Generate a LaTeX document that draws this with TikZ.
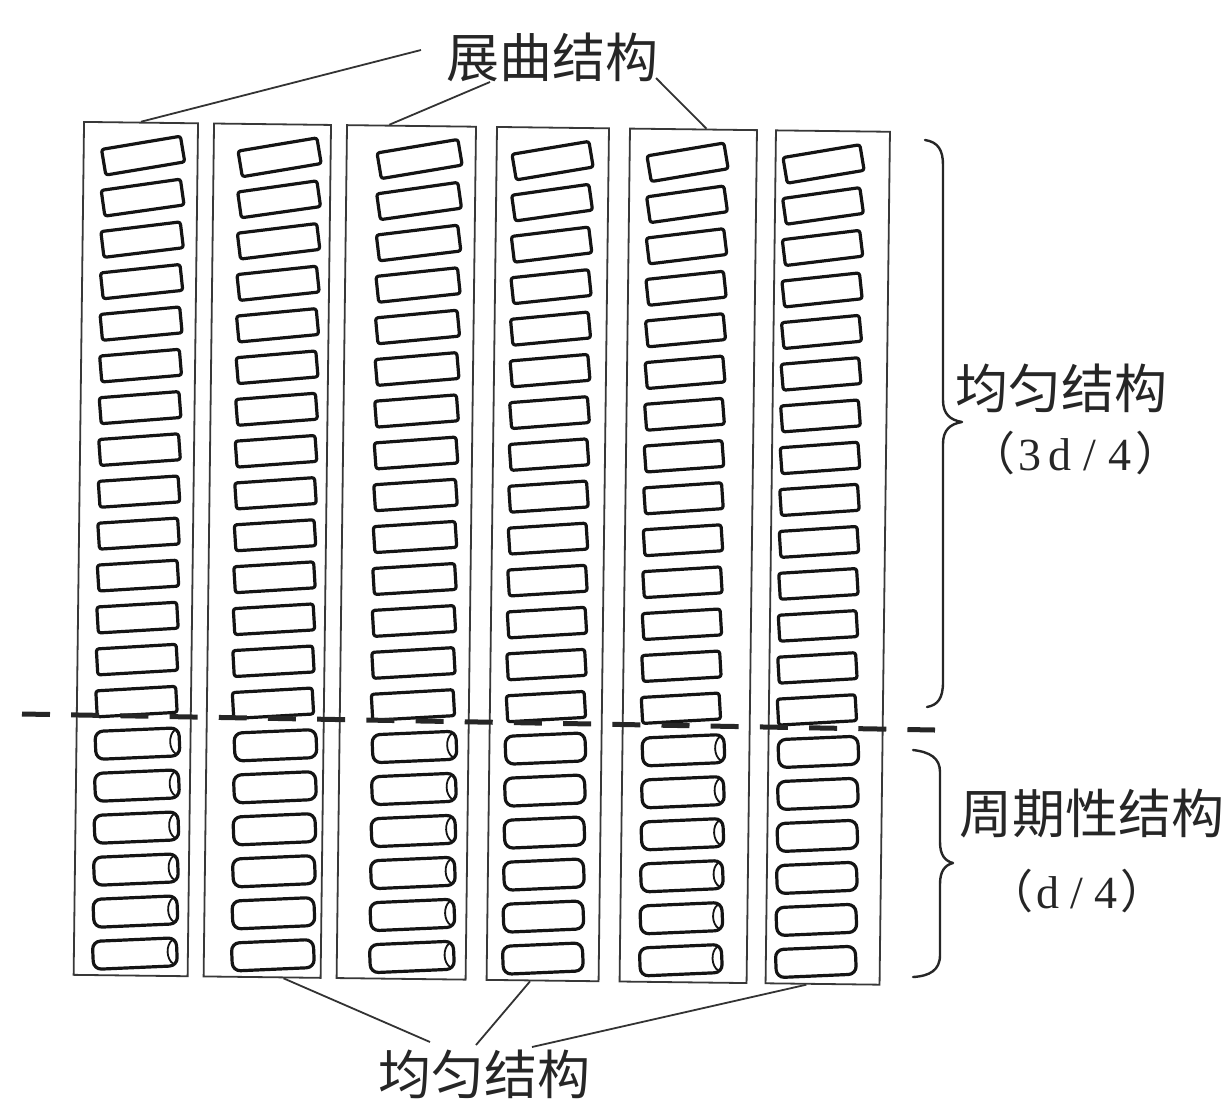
\documentclass[tikz,border=0pt]{standalone}
\usepackage{fontspec}
\setmainfont{Liberation Serif}
\newfontfamily\cjk{Noto Sans CJK SC}
\usetikzlibrary{calc}

\begin{document}
\begin{tikzpicture}[x=1pt,y=-1pt,
  colbox/.style={draw=black!78,line width=1.8pt,minimum height=853pt,inner sep=0pt,transform shape},
  cellline/.style={draw=black!92,line width=3.2pt,line join=round},
  capline/.style={draw=black!92,line width=1.8pt},
  leader/.style={draw=black!80,line width=1.8pt},
  bracestyle/.style={draw=black!85,line width=2.4pt,line cap=round,line join=round},
  midline/.style={draw=black!85,line width=5pt,dash pattern=on 28pt off 21.2pt},
  cjklabel/.style={font=\cjk\fontsize{53}{60}\selectfont,text=black!85,inner sep=0pt},
  fraclabel/.style={font=\fontsize{46}{52}\selectfont,text=black!85,inner sep=0pt}]
\useasboundingbox (0,0) rectangle (1231,1101);

% six strips of cells, the whole group slightly turned
\begin{scope}[rotate around={-0.7:(500,127)}]
  \foreach \c/\cx/\cw/\ux/\uw/\lx/\lw/\cap in
    {1/141/114/143.5/80/145/84/1,
     2/272.5/117/280/80/283/82/0,
     3/411.5/129/420/82/422/84/1,
     4/553/112/553/78/553/80/0,
     5/693.5/127/688/78/691/82/1,
     6/833/114/824/78/826/80/0}{
    \node[colbox,minimum width=\cw pt] (col\c) at (\cx,553.5) {};
    % upper part: tilted cells, tilt relaxing downwards
    \foreach \i in {1,...,14}{
      \pgfmathsetmacro\cy{160+42*(\i-1)}
      \pgfmathsetmacro\tilt{3.7+6.5*exp(-(\i-1)/4)}
      \draw[cellline,rounded corners=2.5pt,shift={(\ux,\cy)},rotate=\tilt]
        (-\uw/2,-13) rectangle (\uw/2,13);
    }
    % lower part: rounded cylinders
    \foreach \i in {15,...,20}{
      \pgfmathsetmacro\cy{160+42*(\i-1)}
      \draw[cellline,rounded corners=8pt,shift={(\lx,\cy)},rotate=3.2]
        (-\lw/2,-14) rectangle (\lw/2,14);
      \ifnum\cap=1
        \draw[capline,shift={(\lx,\cy)},rotate=3.2]
          (\lw/2-4,-12) .. controls (\lw/2-11,-7) and (\lw/2-11,7) .. (\lw/2-4,12);
      \fi
    }
  }
\end{scope}

% boundary between the two parts
\coordinate (dashL) at (22,714);
\coordinate (dashR) at (935,730);
\draw[midline] (dashL) -- (dashR);

% braces
\draw[bracestyle] (925,140) .. controls (938,142) and (943,150) .. (943,165)
  -- (943,400) .. controls (943,414) and (950,420) .. (962,422)
  .. controls (950,424) and (943,430) .. (943,444)
  -- (943,682) .. controls (943,698) and (938,705) .. (927,707);
\draw[bracestyle] (913,750) .. controls (930,752) and (940,758) .. (940,772)
  -- (940,842) .. controls (940,855) and (945,861) .. (953,863)
  .. controls (945,865) and (940,871) .. (940,884)
  -- (940,955) .. controls (940,970) and (930,976) .. (913,977);

% labels
\node[cjklabel] (tTop) at (552,57) {展曲结构};
\node[cjklabel] (tBot) at (484,1074) {均匀结构};
\node[cjklabel] (tUni) at (1061,388) {均匀结构};
\node[fraclabel] (tUniF) at (1075,453)
  {{\cjk （}\makebox[30pt]{3}\makebox[30pt]{d}\makebox[30pt]{/}\makebox[30pt]{4}{\cjk ）}};
\node[cjklabel] (tPer) at (1092,813) {周期性结构};
\node[fraclabel] (tPerF) at (1077,891)
  {{\cjk （}\makebox[29pt]{d}\makebox[29pt]{/}\makebox[29pt]{4}{\cjk ）}};

% leader lines
\coordinate (a1) at (421,50);
\coordinate (a2) at (490,82);
\coordinate (a3) at (656,78);
\draw[leader] (a1) -- (col1.north);
\draw[leader] (a2) -- ($(col3.north west)!0.33!(col3.north east)$);
\draw[leader] (a3) -- ($(col5.north west)!0.6!(col5.north east)$);
\coordinate (b1) at (430,1042);
\coordinate (b2) at (476,1045);
\coordinate (b3) at (532,1047);
\draw[leader] (b1) -- ($(col2.south west)!0.68!(col2.south east)$);
\draw[leader] (b2) -- ($(col4.south west)!0.39!(col4.south east)$);
\draw[leader] (b3) -- ($(col6.south west)!0.36!(col6.south east)$);
\end{tikzpicture}
\end{document}
